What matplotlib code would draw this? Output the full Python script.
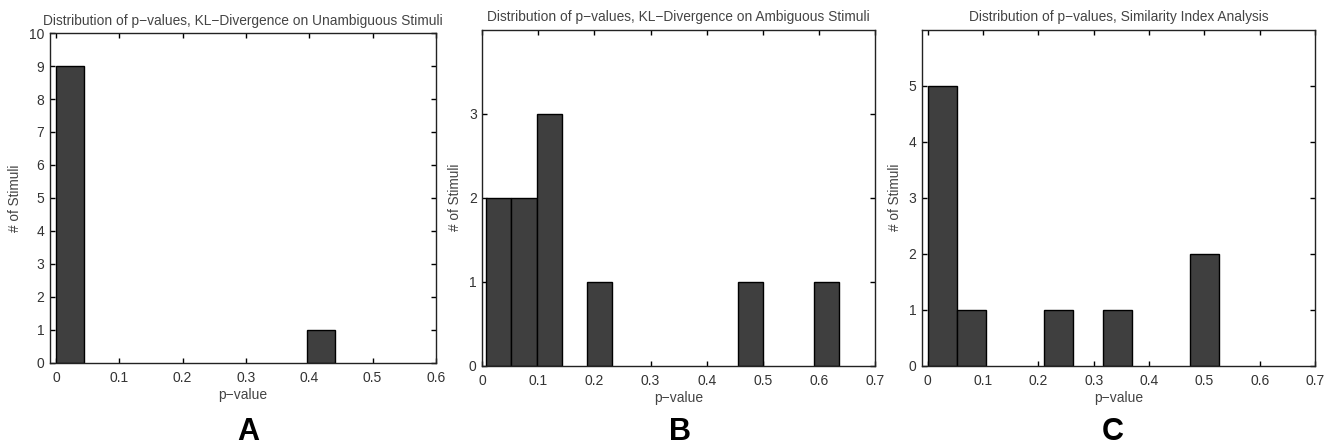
import matplotlib
matplotlib.use("Agg")
import matplotlib.pyplot as plt

plt.rcParams['font.family'] = ['Liberation Sans', 'DejaVu Sans']

# Panel A: KL-Divergence on unambiguous stimuli
a_centers = [0.022, 0.418]
a_counts = [9, 1]
a_width = 0.044

# Panel B: KL-Divergence on ambiguous stimuli
b_centers = [0.0296, 0.0745, 0.1194, 0.2093, 0.4788, 0.6135]
b_counts = [2, 2, 3, 1, 1, 1]
b_width = 0.0449

# Panel C: Similarity index analysis
c_centers = [0.0264, 0.0791, 0.2371, 0.3425, 0.5006]
c_counts = [5, 1, 1, 1, 2]
c_width = 0.0527

titles = ["Distribution of p\u2212values, KL\u2212Divergence on Unambiguous Stimuli",
          "Distribution of p\u2212values, KL\u2212Divergence on Ambiguous Stimuli",
          "Distribution of p\u2212values, Similarity Index Analysis"]
panel_letters = ["A", "B", "C"]
xticks_list = [[0, 0.1, 0.2, 0.3, 0.4, 0.5, 0.6],
               [0, 0.1, 0.2, 0.3, 0.4, 0.5, 0.6, 0.7],
               [0, 0.1, 0.2, 0.3, 0.4, 0.5, 0.6, 0.7]]
yticks_list = [list(range(0, 11)), [0, 1, 2, 3], [0, 1, 2, 3, 4, 5]]
xlims = [(-0.01, 0.6), (0, 0.7), (-0.0102, 0.7)]
ylims = [(0, 10), (0, 4), (0, 6)]

fig = plt.figure(figsize=(13.34, 4.46), dpi=100)
positions = [[0.0373, 0.1868, 0.2894, 0.739],
             [0.3615, 0.180, 0.2944, 0.7534],
             [0.6912, 0.180, 0.2946, 0.7534]]
letter_x = [248 / 1334, 680 / 1334, 1113 / 1334]
ylabel_x = [22, 462, 902]

data = [(a_centers, a_counts, a_width), (b_centers, b_counts, b_width),
        (c_centers, c_counts, c_width)]

text_col = '#333333'
for i, (centers, counts, w) in enumerate(data):
    ax = fig.add_axes(positions[i])
    ax.bar(centers, counts, width=w, color='#3f3f3f', edgecolor='black',
           linewidth=1.0, zorder=2)
    ax.set_xlim(*xlims[i])
    ax.set_ylim(*ylims[i])
    ax.set_xticks(xticks_list[i])
    ax.set_xticklabels(["0" if t == 0 else f"{t:.1f}" for t in xticks_list[i]])
    ax.set_yticks(yticks_list[i])
    ax.tick_params(direction='in', top=True, right=True, length=3.5,
                   width=1.0, labelsize=10, labelcolor=text_col,
                   color='black')
    ax.tick_params(axis='x', pad=6)
    ax.tick_params(axis='y', pad=4)
    for s in ax.spines.values():
        s.set_linewidth(1.0)
        s.set_color('#222222')
    ax.set_title(titles[i], fontsize=9.9, color='#444444', pad=6)
    ax.set_xlabel("p\u2212value", fontsize=10, color='#444444', labelpad=2)
    ax.set_ylabel("# of Stimuli", fontsize=9.8, color='#444444')
    ax.yaxis.set_label_coords((ylabel_x[i] / 1334 - positions[i][0]) / positions[i][2], 0.5)
    fig.text(letter_x[i], 6 / 446, panel_letters[i], fontsize=22, fontweight='bold',
             ha='center', va='baseline', color='black')

fig.savefig("out.png", dpi=100)
